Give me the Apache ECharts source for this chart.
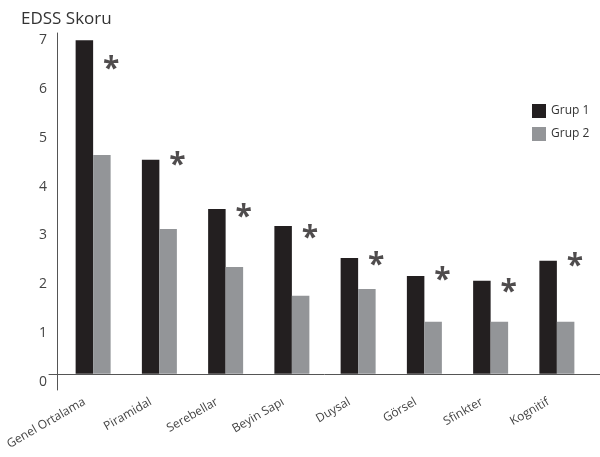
<!DOCTYPE html>
<html>
<head>
<meta charset="utf-8">
<script src="https://cdn.jsdelivr.net/npm/echarts@6/dist/echarts.min.js"></script>
<style>html,body{margin:0;padding:0;background:#fff}#c{width:600px;height:457px}</style>
</head>
<body>
<div id="c"></div>
<script>
const categories = ['Genel Ortalama', 'Piramidal', 'Serebellar', 'Beyin Sapı', 'Duysal', 'Görsel', 'Sfinkter', 'Kognitif'];
const grup1 = [7.0, 4.49, 3.46, 3.10, 2.43, 2.05, 1.95, 2.37];
const grup2 = [4.59, 3.04, 2.24, 1.64, 1.78, 1.09, 1.09, 1.09];
const starLevels = [6.52, 4.49, 3.40, 2.96, 2.39, 2.08, 1.83, 2.37];
const yTicks = [0, 1, 2, 3, 4, 5, 6, 7];

const FONT = '"Open Sans", "Noto Sans", sans-serif';
const yMin = -0.34, yMax = 7.15;

const chart = echarts.init(document.getElementById('c'), null, {renderer: 'canvas'});
chart.setOption({
  animation: false,
  backgroundColor: '#fff',
  textStyle: {fontFamily: FONT},
  title: {
    text: 'EDSS Skoru', left: 16, top: 6,
    textStyle: {fontFamily: FONT, fontSize: 17, fontWeight: 'normal', color: '#333'}
  },
  legend: {
    orient: 'vertical', left: 527, top: 99,
    itemWidth: 14, itemHeight: 14, itemGap: 9,
    icon: 'rect',
    textStyle: {fontFamily: FONT, fontSize: 12, color: '#333'},
    data: ['Grup 1', 'Grup 2']
  },
  grid: [
    {left: 49, right: 0, top: 33, bottom: 67, outerBoundsMode: 'none', containLabel: false},
    {left: 60, right: 10, top: 33, bottom: 67, outerBoundsMode: 'none', containLabel: false}
  ],
  xAxis: [
    {
      type: 'category', gridIndex: 0, data: categories,
      axisLine: {show: true, onZero: true, onZeroAxisIndex: 0, lineStyle: {color: '#555', width: 1}},
      axisTick: {show: false}, axisLabel: {show: false}, splitLine: {show: false}
    },
    {
      type: 'category', gridIndex: 1, data: categories,
      axisLine: {show: false, onZero: true},
      axisTick: {show: false},
      axisLabel: {rotate: 30, margin: 6, padding: [0, 10, 0, 0], fontFamily: FONT, fontSize: 12, color: '#444', interval: 0}
    }
  ],
  yAxis: [
    {
      type: 'value', gridIndex: 0, position: 'left', min: yMin, max: yMax, offset: -8,
      axisLine: {show: true, lineStyle: {color: '#555', width: 1}},
      axisTick: {show: false}, splitLine: {show: false}, axisLabel: {show: false}
    },
    {
      type: 'value', gridIndex: 1, min: yMin, max: yMax, show: false,
      splitLine: {show: false}
    },
    {
      type: 'value', gridIndex: 0, position: 'left', min: -0.164, max: 7.143, offset: -8,
      axisLine: {show: false}, axisTick: {show: false}, splitLine: {show: false},
      axisLabel: {customValues: yTicks, margin: 10, fontFamily: FONT, fontSize: 14, color: '#444'}
    }
  ],
  series: [
    {
      name: 'Grup 1', type: 'bar', xAxisIndex: 1, yAxisIndex: 1,
      data: grup1, barWidth: 17.5, barGap: '0%',
      itemStyle: {color: '#231f20'}
    },
    {
      name: 'Grup 2', type: 'bar', xAxisIndex: 1, yAxisIndex: 1,
      data: grup2, barWidth: 17.5, barGap: '0%',
      itemStyle: {color: '#939598'}
    },
    {
      name: 'stars', type: 'scatter', xAxisIndex: 1, yAxisIndex: 1,
      data: starLevels, symbolSize: 0, silent: true,
      label: {
        show: true, formatter: '*', position: 'inside', offset: [18, 6],
        fontFamily: FONT, fontSize: 30, fontWeight: 'bold', color: '#231f20'
      }
    }
  ]
});
</script>
</body>
</html>
